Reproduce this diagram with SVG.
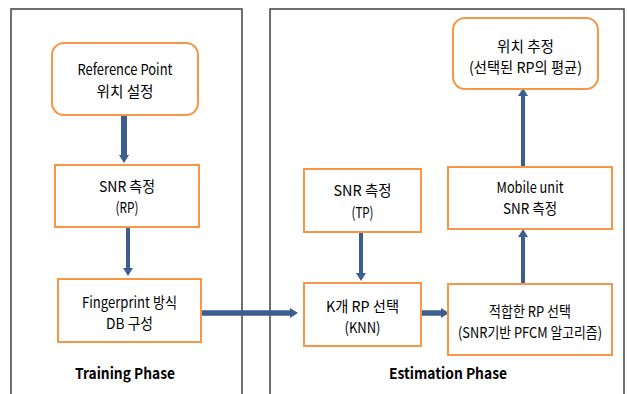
<svg xmlns="http://www.w3.org/2000/svg" width="627" height="394" viewBox="0 0 627 394">
<style>
.panel{fill:none;stroke:#404040;stroke-width:1.5}
.box{fill:#fff;stroke:#F79646;stroke-width:2}
.t{font-family:"Noto Sans CJK KR","Noto Sans",sans-serif;font-size:15px;fill:#000;text-anchor:middle}
.ph{font-family:"Noto Sans CJK KR","Noto Sans",sans-serif;font-size:15px;font-weight:bold;fill:#000;text-anchor:middle}
.c{stroke:#3B5E8C;fill:none}
</style>
<defs>
<marker id="ah" markerUnits="userSpaceOnUse" markerWidth="10" markerHeight="10" viewBox="0 0 8 10" refX="1" refY="5" orient="auto">
<path d="M0,0 L8,5 L0,10 z" fill="#3B5E8C"/>
</marker>
</defs>
<rect class="panel" x="11" y="9" width="231" height="400"/>
<rect class="panel" x="270" y="9" width="354" height="400"/>
<g id="connectors">
<line class="c" x1="124" y1="116" x2="124" y2="156" stroke-width="6" marker-end="url(#ah)"/>
<line class="c" x1="128" y1="228" x2="128" y2="269" stroke-width="4" marker-end="url(#ah)"/>
<line class="c" x1="202" y1="313" x2="291" y2="313" stroke-width="5.5" marker-end="url(#ah)"/>
<line class="c" x1="361" y1="233" x2="361" y2="274" stroke-width="4" marker-end="url(#ah)"/>
<line class="c" x1="422" y1="313" x2="442" y2="313" stroke-width="5.5" marker-end="url(#ah)"/>
<line class="c" x1="523" y1="283" x2="523" y2="236" stroke-width="4" marker-end="url(#ah)"/>
<line class="c" x1="523" y1="166" x2="523" y2="95" stroke-width="4" marker-end="url(#ah)"/>
</g>
<g id="rp-setup">
<rect class="box" x="52" y="43" width="146" height="72" rx="12"/>
<text class="t" x="125" y="75" textLength="95" lengthAdjust="spacingAndGlyphs">Reference Point</text>
<text class="t" x="125" y="97" textLength="57" lengthAdjust="spacingAndGlyphs">위치 설정</text>
</g>
<g id="snr-rp">
<rect class="box" x="55" y="165" width="144" height="62"/>
<text class="t" x="127" y="192" textLength="56" lengthAdjust="spacingAndGlyphs">SNR 측정</text>
<text class="t" x="127" y="213" textLength="23" lengthAdjust="spacingAndGlyphs">(RP)</text>
</g>
<g id="fingerprint-db">
<rect class="box" x="58" y="279" width="143" height="63"/>
<text class="t" x="129.5" y="308" textLength="95" lengthAdjust="spacingAndGlyphs">Fingerprint 방식</text>
<text class="t" x="129.5" y="329" textLength="47" lengthAdjust="spacingAndGlyphs">DB 구성</text>
</g>
<g id="training-label">
<text class="ph" x="125" y="379" textLength="100" lengthAdjust="spacingAndGlyphs">Training Phase</text>
</g>
<g id="position-estimate">
<rect class="box" x="453" y="18" width="145" height="71" rx="12"/>
<text class="t" x="525.5" y="52" textLength="57" lengthAdjust="spacingAndGlyphs">위치 추정</text>
<text class="t" x="525.5" y="73" textLength="113" lengthAdjust="spacingAndGlyphs">(선택된 RP의 평균)</text>
</g>
<g id="snr-tp">
<rect class="box" x="304" y="169" width="117" height="63"/>
<text class="t" x="362.5" y="196" textLength="58" lengthAdjust="spacingAndGlyphs">SNR 측정</text>
<text class="t" x="362.5" y="218" textLength="22" lengthAdjust="spacingAndGlyphs">(TP)</text>
</g>
<g id="mobile-snr">
<rect class="box" x="448" y="167" width="164" height="62"/>
<text class="t" x="530" y="193" textLength="67" lengthAdjust="spacingAndGlyphs">Mobile unit</text>
<text class="t" x="530" y="214" textLength="54" lengthAdjust="spacingAndGlyphs">SNR 측정</text>
</g>
<g id="knn">
<rect class="box" x="304" y="283" width="117" height="63"/>
<text class="t" x="362.5" y="312" textLength="73" lengthAdjust="spacingAndGlyphs">K개 RP 선택</text>
<text class="t" x="362.5" y="333" textLength="36" lengthAdjust="spacingAndGlyphs">(KNN)</text>
</g>
<g id="pfcm">
<rect class="box" x="448" y="284" width="164" height="71"/>
<text class="t" x="530" y="317" textLength="82" lengthAdjust="spacingAndGlyphs">적합한 RP 선택</text>
<text class="t" x="530" y="338" textLength="144" lengthAdjust="spacingAndGlyphs">(SNR기반 PFCM 알고리즘)</text>
</g>
<g id="estimation-label">
<text class="ph" x="448" y="379" textLength="118" lengthAdjust="spacingAndGlyphs">Estimation Phase</text>
</g>
</svg>
